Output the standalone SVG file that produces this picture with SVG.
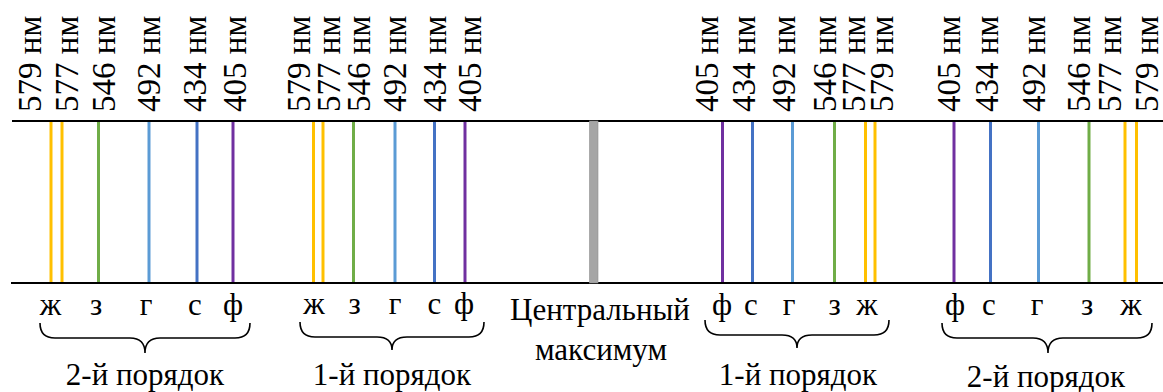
<svg xmlns="http://www.w3.org/2000/svg" width="1163" height="392" viewBox="0 0 1163 392">
<style>
.axis{stroke:#000;stroke-width:2;fill:none}
.ln{stroke-width:3;fill:none}
.y{stroke:#FFC000}.g{stroke:#70AD47}.lb{stroke:#5B9BD5}.b{stroke:#4472C4}.p{stroke:#7030A0}
text{font-family:'Liberation Serif','Times New Roman','DejaVu Serif',serif;fill:#000}
.wl{font-size:33px}
.let{font-size:31px;text-anchor:middle}
.ttl{font-size:31px;text-anchor:middle}
.brace{stroke:#000;stroke-width:1.6;fill:none}
</style>
<g id="axes">
<line class="axis" x1="12" y1="121" x2="1163" y2="121"/>
<line class="axis" x1="11" y1="283" x2="1163" y2="283"/>
</g>
<g id="order2-left">
<line class="ln y" x1="51" y1="122" x2="51" y2="282"/>
<line class="ln y" x1="62" y1="122" x2="62" y2="282"/>
<line class="ln g" x1="98.5" y1="122" x2="98.5" y2="282"/>
<line class="ln lb" x1="149" y1="122" x2="149" y2="282"/>
<line class="ln b" x1="197" y1="122" x2="197" y2="282"/>
<line class="ln p" x1="233" y1="122" x2="233" y2="282"/>
<text class="wl" font-family="Liberation Serif, serif" transform="translate(41,112) rotate(-90)">579 нм</text>
<text class="wl" font-family="Liberation Serif, serif" transform="translate(77.5,112) rotate(-90)">577 нм</text>
<text class="wl" font-family="Liberation Serif, serif" transform="translate(114.5,112) rotate(-90)">546 нм</text>
<text class="wl" font-family="Liberation Serif, serif" transform="translate(159.5,112) rotate(-90)">492 нм</text>
<text class="wl" font-family="Liberation Serif, serif" transform="translate(206,112) rotate(-90)">434 нм</text>
<text class="wl" font-family="Liberation Serif, serif" transform="translate(246,112) rotate(-90)">405 нм</text>
<text class="let" x="50.5" y="315">ж</text>
<text class="let" x="96" y="315">з</text>
<text class="let" x="146" y="315">г</text>
<text class="let" x="195" y="315">с</text>
<text class="let" x="233" y="315">ф</text>
<path class="brace" d="M40,323 Q40,338 55,338 L130,338 Q145,338 145,353 Q145,338 160,338 L235,338 Q250,338 250,323"/>
<text class="ttl" x="145" y="385">2-й порядок</text>
</g>
<g id="order1-left">
<line class="ln y" x1="313.5" y1="122" x2="313.5" y2="282"/>
<line class="ln y" x1="323" y1="122" x2="323" y2="282"/>
<line class="ln g" x1="353.5" y1="122" x2="353.5" y2="282"/>
<line class="ln lb" x1="395" y1="122" x2="395" y2="282"/>
<line class="ln b" x1="434.5" y1="122" x2="434.5" y2="282"/>
<line class="ln p" x1="465" y1="122" x2="465" y2="282"/>
<text class="wl" transform="translate(309.5,112) rotate(-90)">579 нм</text>
<text class="wl" transform="translate(339.5,112) rotate(-90)">577 нм</text>
<text class="wl" transform="translate(369.5,112) rotate(-90)">546 нм</text>
<text class="wl" transform="translate(406,112) rotate(-90)">492 нм</text>
<text class="wl" transform="translate(446,112) rotate(-90)">434 нм</text>
<text class="wl" transform="translate(481,112) rotate(-90)">405 нм</text>
<text class="let" x="314" y="314">ж</text>
<text class="let" x="354.5" y="314">з</text>
<text class="let" x="395" y="314">г</text>
<text class="let" x="434.5" y="314">с</text>
<text class="let" x="464" y="314">ф</text>
<path class="brace" d="M300,322 Q300,337 315,337 L377,337 Q392,337 392,350 Q392,337 407,337 L469,337 Q484,337 484,322"/>
<text class="ttl" x="392" y="385">1-й порядок</text>
</g>
<g id="central">
<rect x="589.5" y="121" width="8.5" height="162" fill="#a6a6a6" stroke="#8f8f8f" stroke-width="0.6"/>
<text class="ttl" x="600" y="320">Центральный</text>
<text class="ttl" x="601" y="360">максимум</text>
</g>
<g id="order1-right">
<line class="ln p" x1="722.5" y1="122" x2="722.5" y2="282"/>
<line class="ln b" x1="752.5" y1="122" x2="752.5" y2="282"/>
<line class="ln lb" x1="792.5" y1="122" x2="792.5" y2="282"/>
<line class="ln g" x1="834.5" y1="122" x2="834.5" y2="282"/>
<line class="ln y" x1="865.5" y1="122" x2="865.5" y2="282"/>
<line class="ln y" x1="875" y1="122" x2="875" y2="282"/>
<text class="wl" transform="translate(717.5,112) rotate(-90)">405 нм</text>
<text class="wl" transform="translate(754.5,112) rotate(-90)">434 нм</text>
<text class="wl" transform="translate(794.5,112) rotate(-90)">492 нм</text>
<text class="wl" transform="translate(836,112) rotate(-90)">546 нм</text>
<text class="wl" transform="translate(864.5,112) rotate(-90)">577 нм</text>
<text class="wl" transform="translate(892.5,112) rotate(-90)">579 нм</text>
<text class="let" x="722" y="315">ф</text>
<text class="let" x="751" y="315">с</text>
<text class="let" x="789" y="315">г</text>
<text class="let" x="834.5" y="315">з</text>
<text class="let" x="867" y="315">ж</text>
<path class="brace" d="M705,320 Q705,335 720,335 L782,335 Q797,335 797,348 Q797,335 812,335 L874,335 Q889,335 889,320"/>
<text class="ttl" x="798" y="385">1-й порядок</text>
</g>
<g id="order2-right">
<line class="ln p" x1="954" y1="122" x2="954" y2="282"/>
<line class="ln b" x1="990.5" y1="122" x2="990.5" y2="282"/>
<line class="ln lb" x1="1038.5" y1="122" x2="1038.5" y2="282"/>
<line class="ln g" x1="1089" y1="122" x2="1089" y2="282"/>
<line class="ln y" x1="1125" y1="122" x2="1125" y2="282"/>
<line class="ln y" x1="1136.5" y1="122" x2="1136.5" y2="282"/>
<text class="wl" transform="translate(959.5,112) rotate(-90)">405 нм</text>
<text class="wl" transform="translate(997.5,112) rotate(-90)">434 нм</text>
<text class="wl" transform="translate(1044.5,112) rotate(-90)">492 нм</text>
<text class="wl" transform="translate(1089.5,112) rotate(-90)">546 нм</text>
<text class="wl" transform="translate(1121,112) rotate(-90)">577 нм</text>
<text class="wl" transform="translate(1157.5,112) rotate(-90)">579 нм</text>
<text class="let" x="955" y="315">ф</text>
<text class="let" x="989" y="315">с</text>
<text class="let" x="1037" y="315">г</text>
<text class="let" x="1087" y="315">з</text>
<text class="let" x="1131" y="315">ж</text>
<path class="brace" d="M942,323 Q942,338 957,338 L1033,338 Q1048,338 1048,353 Q1048,338 1063,338 L1137,338 Q1152,338 1152,323"/>
<text class="ttl" x="1046" y="387">2-й порядок</text>
</g>
</svg>
